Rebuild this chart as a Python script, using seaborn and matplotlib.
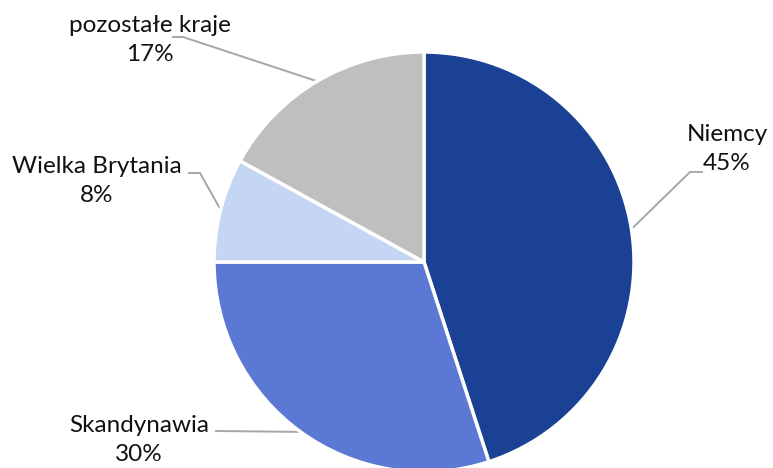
import numpy as np
import matplotlib
matplotlib.use("Agg")
import matplotlib.pyplot as plt
import seaborn as sns

categories = ["Niemcy", "Skandynawia", "Wielka Brytania", "pozostałe kraje"]
values = [45, 30, 8, 17]
colors = ["#1A4193", "#5B78D4", "#C5D6F4", "#BFBFBF"]

sns.set_theme(style="white")
plt.rcParams["font.family"] = ["Lato", "DejaVu Sans"]

W, H = 773, 468
fig = plt.figure(figsize=(W / 100, H / 100), dpi=100)
ax = fig.add_axes([0, 0, 1, 1])

cx, cy, r = 424, H - 262, 210
wedges, _ = ax.pie(values, colors=colors, startangle=90, counterclock=False,
                   center=(cx, cy), radius=r, frame=True,
                   wedgeprops=dict(edgecolor="white", linewidth=2.5))
ax.set_xlim(0, W)
ax.set_ylim(0, H)
ax.set_aspect("equal")
ax.axis("off")

# label layout: (text center x, text center y, elbow/leader start points)
label_pos = {
    "Niemcy": (727, H - 149, [(703, H - 172), (690, H - 172)]),
    "Skandynawia": (139, H - 440, [(215, H - 431)]),
    "Wielka Brytania": (97, H - 181, [(188, H - 173), (200, H - 173)]),
    "pozostałe kraje": (150, H - 40, [(172, H - 37), (183, H - 37)]),
}

for w, cat, v in zip(wedges, categories, values):
    mid = np.deg2rad((w.theta1 + w.theta2) / 2)
    ex, ey = cx + r * np.cos(mid), cy + r * np.sin(mid)
    tx, ty, pts = label_pos[cat]
    xs = [p[0] for p in pts] + [ex]
    ys = [p[1] for p in pts] + [ey]
    ax.plot(xs, ys, color="#A6A6A6", lw=1.4, zorder=0.5, solid_capstyle="butt")
    ax.text(tx, ty, f"{cat}\n{v}%", ha="center", va="center", fontsize=17.5,
            color="#111111", linespacing=1.5)

fig.savefig("out.png", dpi=100)
